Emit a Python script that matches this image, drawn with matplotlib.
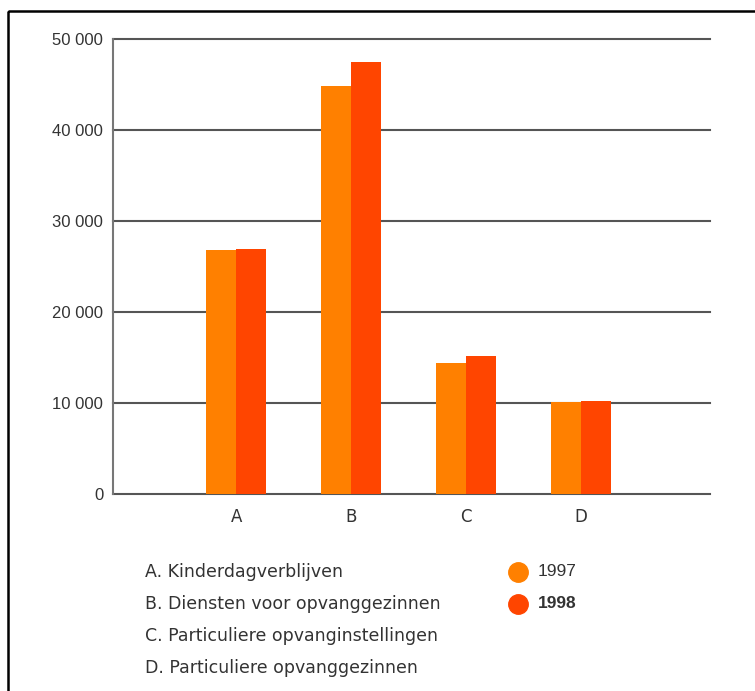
import matplotlib.pyplot as plt
import numpy as np
from matplotlib.patches import Rectangle
from matplotlib.lines import Line2D

# waarden
categorieen = ['A', 'B', 'C', 'D']
omschrijvingen = ['A. Kinderdagverblijven',
                  'B. Diensten voor opvanggezinnen',
                  'C. Particuliere opvanginstellingen',
                  'D. Particuliere opvanggezinnen']
jaren = ['1997', '1998']
waarden_1997 = [26800, 44800, 14400, 10100]
waarden_1998 = [26900, 47500, 15200, 10200]
yticks = [0, 10000, 20000, 30000, 40000, 50000]
ytick_labels = ['0', '10 000', '20 000', '30 000', '40 000', '50 000']

kleur_1997 = '#FF8000'
kleur_1998 = '#FF4500'

plt.rcParams['font.family'] = ['Liberation Sans', 'DejaVu Sans']
smal = ['Liberation Sans', 'DejaVu Sans']
breed = ['DejaVu Sans']

W, H = 755, 691
fig = plt.figure(figsize=(W / 100, H / 100), dpi=100)

# kader rond de figuur (rechts en onder buiten beeld)
fig.add_artist(Rectangle((8 / W, 1 - 11 / H), 2, -2, transform=fig.transFigure,
                         fill=False, edgecolor='black', linewidth=1.8))

ax = fig.add_axes([113 / W, 1 - 494 / H, (710 - 113) / W, (494 - 39) / H])

x = np.arange(1, len(categorieen) + 1)
breedte = 0.26
ax.bar(x - breedte / 2, waarden_1997, breedte, color=kleur_1997, zorder=2)
ax.bar(x + breedte / 2, waarden_1998, breedte, color=kleur_1998, zorder=2)

ax.set_xlim(-0.07, 5.12)
ax.set_ylim(0, 50000)
ax.set_yticks(yticks)
ax.set_yticklabels(ytick_labels, fontsize=12, color='#333333', family=smal)
ax.set_xticks(x)
ax.set_xticklabels(categorieen, fontsize=12, color='#333333', family=breed)
ax.tick_params(axis='y', length=0, pad=7)
ax.tick_params(axis='x', length=0, pad=10)

for y in yticks:
    ax.axhline(y, color='#555555', linewidth=1.5, zorder=1, clip_on=False)

for kant in ['top', 'right', 'bottom']:
    ax.spines[kant].set_visible(False)
ax.spines['left'].set_color('#777777')
ax.spines['left'].set_linewidth(1.5)

# legenda onder de grafiek
for i, tekst in enumerate(omschrijvingen):
    fig.text(145 / W, 1 - (572 + 32 * i) / H, tekst, fontsize=12.5,
             color='#333333', va='center', family=breed)

kleuren = [kleur_1997, kleur_1998]
for i, jaar in enumerate(jaren):
    yy = 1 - (572 + 32 * i) / H
    fig.add_artist(Line2D([518 / W], [yy], marker='o', markersize=14,
                          color=kleuren[i], linestyle='none',
                          transform=fig.transFigure))
    fig.text(538 / W, yy, jaar, fontsize=12.5, color='#333333', va='center',
             family=smal, fontweight='bold' if jaar == '1998' else 'normal')

fig.savefig('out.png', dpi=100)
